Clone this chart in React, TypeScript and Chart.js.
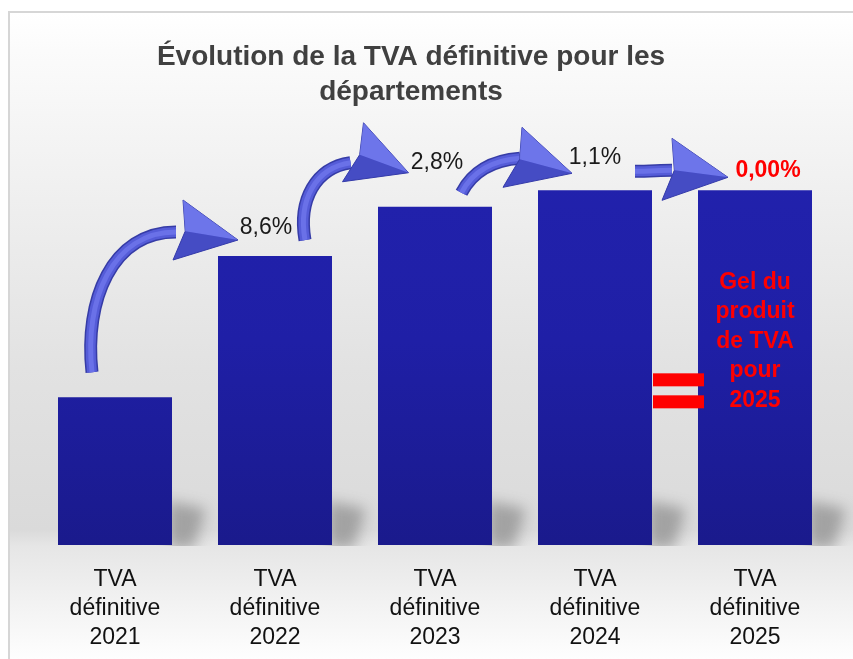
import React, { useEffect, useRef } from "react";
import { Chart, registerables } from "chart.js";

Chart.register(...registerables);

// ---------- data ----------
const categories: string[][] = [
  ["TVA", "définitive", "2021"],
  ["TVA", "définitive", "2022"],
  ["TVA", "définitive", "2023"],
  ["TVA", "définitive", "2024"],
  ["TVA", "définitive", "2025"],
];
// index, TVA définitive 2021 = 100
const values: number[] = [100, 108.6, 111.6, 112.6, 112.6];
const changeLabels: string[] = ["", "8,6%", "2,8%", "1,1%", "0,00%"];
const titleLines: string[] = ["Évolution de la TVA définitive pour les", "départements"];
const noteLines: string[] = ["Gel du", "produit", "de TVA", "pour", "2025"];
const yMin = 91;
const yMax = 116;

// ---------- styling / layout (not data) ----------
const FONT = "'Liberation Sans', Arial, sans-serif";
const labelOffsets: [number, number][] = [[0, 0], [-9, -28], [2, -44], [0, -33], [13, -20]];

type P = [number, number];
interface ArrowShape {
  from: number; to: number;
  tail: P; c1: P; // relative to top-centre of "from" bar
  c2: P; end: P; top: P; tip: P; bottom: P; // relative to top-centre of "to" bar
}
const arrowShapes: ArrowShape[] = [
  { from: 0, to: 1, tail: [-23, -25], c1: [-31, -97], c2: [-163, -24], end: [-99, -24], top: [-92, -56], tip: [-37, -16], bottom: [-102, 4] },
  { from: 1, to: 2, tail: [30, -16], c1: [23, -56], c2: [-119.5, -39], end: [-84.5, -44], top: [-71.5, -84], tip: [-26.5, -34], bottom: [-92.5, -25] },
  { from: 2, to: 3, tail: [26.5, -14], c1: [37.5, -35], c2: [-103, -30], end: [-75, -32], top: [-73, -63], tip: [-23, -17], bottom: [-92, -3] },
  { from: 3, to: 4, tail: [40, -19], c1: [55, -19], c2: [-95, -20], end: [-83, -20], top: [-83, -52], tip: [-27, -13], bottom: [-93, 10] },
];

function drawArrow(ctx: CanvasRenderingContext2D, a: any, b: any, s: ArrowShape) {
  const A = (p: P): P => [a.x + p[0], a.y + p[1]];
  const B = (p: P): P => [b.x + p[0], b.y + p[1]];
  const tail = A(s.tail), c1 = A(s.c1), c2 = B(s.c2), end = B(s.end);
  const top = B(s.top), tip = B(s.tip), bottom = B(s.bottom);
  ctx.save();
  ctx.lineCap = "butt";
  ctx.lineJoin = "round";
  const shaft = () => {
    ctx.beginPath();
    ctx.moveTo(tail[0], tail[1]);
    ctx.bezierCurveTo(c1[0], c1[1], c2[0], c2[1], end[0], end[1]);
  };
  shaft(); ctx.strokeStyle = "#363ca6"; ctx.lineWidth = 13; ctx.stroke();
  shaft(); ctx.strokeStyle = "#555cd8"; ctx.lineWidth = 10; ctx.stroke();
  shaft(); ctx.strokeStyle = "#6a71e8"; ctx.lineWidth = 5; ctx.stroke();
  // head
  const bm: P = [(top[0] + bottom[0]) / 2, (top[1] + bottom[1]) / 2];
  const mid: P = [bm[0] + (tip[0] - bm[0]) * 0.12, bm[1] + (tip[1] - bm[1]) * 0.12];
  ctx.beginPath();
  ctx.moveTo(top[0], top[1]); ctx.lineTo(tip[0], tip[1]); ctx.lineTo(bottom[0], bottom[1]); ctx.lineTo(mid[0], mid[1]); ctx.closePath();
  ctx.fillStyle = "#555cd8"; ctx.fill();
  ctx.strokeStyle = "#3a40ac"; ctx.lineWidth = 1; ctx.stroke();
  // bevel facets
  ctx.beginPath();
  ctx.moveTo(top[0], top[1]); ctx.lineTo(tip[0], tip[1]); ctx.lineTo(mid[0], mid[1]); ctx.closePath();
  ctx.fillStyle = "rgba(130,138,250,0.55)"; ctx.fill();
  ctx.beginPath();
  ctx.moveTo(bottom[0], bottom[1]); ctx.lineTo(tip[0], tip[1]); ctx.lineTo(mid[0], mid[1]); ctx.closePath();
  ctx.fillStyle = "rgba(40,46,160,0.35)"; ctx.fill();
  ctx.restore();
}

const decorPlugin = {
  id: "decor",
  beforeDraw(chart: any) {
    const { ctx, width: W, height: H } = chart;
    ctx.save();
    ctx.fillStyle = "#ffffff";
    ctx.fillRect(0, 0, W, H);
    const g = ctx.createLinearGradient(0, 12, 0, H);
    g.addColorStop(0, "#ffffff");
    g.addColorStop(0.06, "#fbfbfb");
    g.addColorStop(0.29, "#efefef");
    g.addColorStop(0.55, "#e2e2e2");
    g.addColorStop(0.8, "#dadada");
    g.addColorStop(0.826, "#e6e6e6");
    g.addColorStop(0.92, "#f3f3f3");
    g.addColorStop(1, "#fefefe");
    ctx.fillStyle = g;
    ctx.fillRect(9, 12, W - 9, H - 12);
    ctx.strokeStyle = "#d6d6d6";
    ctx.lineWidth = 2;
    ctx.beginPath();
    ctx.moveTo(9, H);
    ctx.lineTo(9, 12);
    ctx.lineTo(W, 12);
    ctx.stroke();
    // title
    ctx.fillStyle = "#404040";
    ctx.font = `bold 28px ${FONT}`;
    ctx.textAlign = "center";
    ctx.textBaseline = "middle";
    titleLines.forEach((t, i) => ctx.fillText(t, 411, 57 + i * 35));
    ctx.restore();
  },
  beforeDatasetsDraw(chart: any) {
    const { ctx, chartArea } = chart;
    const meta = chart.getDatasetMeta(0);
    const base = chartArea.bottom;
    ctx.save();
    ctx.beginPath();
    ctx.rect(0, 0, chart.width, base + 1);
    ctx.clip();
    ctx.filter = "blur(7px)";
    ctx.fillStyle = "rgba(70,70,70,0.38)";
    meta.data.forEach((bar: any) => {
      const r = bar.x + bar.width / 2;
      ctx.beginPath();
      ctx.moveTo(r - 4, base + 4);
      ctx.lineTo(r - 4, base - 44);
      ctx.lineTo(r + 34, base - 36);
      ctx.lineTo(r + 22, base + 4);
      ctx.closePath();
      ctx.fill();
    });
    ctx.restore();
  },
  afterDatasetsDraw(chart: any) {
    const { ctx } = chart;
    const bars = chart.getDatasetMeta(0).data;
    arrowShapes.forEach((s) => drawArrow(ctx, bars[s.from], bars[s.to], s));
    ctx.save();
    ctx.textAlign = "center";
    ctx.textBaseline = "middle";
    changeLabels.forEach((t, i) => {
      if (!t) return;
      const bar = bars[i];
      const last = i === changeLabels.length - 1;
      ctx.font = `${last ? "bold " : ""}23px ${FONT}`;
      ctx.fillStyle = last ? "#ff0000" : "#1a1a1a";
      ctx.fillText(t, bar.x + labelOffsets[i][0], bar.y + labelOffsets[i][1]);
    });
    // freeze note inside the last bar
    const lb = bars[bars.length - 1];
    const pb = bars[bars.length - 2];
    ctx.font = `bold 23px ${FONT}`;
    ctx.fillStyle = "#ff0000";
    noteLines.forEach((t, i) => ctx.fillText(t, lb.x, lb.y + 92 + i * 29.5));
    // "=" sign between the last two bars
    const x0 = pb.x + pb.width / 2 + 1;
    const x1 = lb.x - lb.width / 2 + 6;
    const yc = lb.y + 200;
    ctx.fillRect(x0, yc - 17, x1 - x0, 13);
    ctx.fillRect(x0, yc + 5, x1 - x0, 13);
    ctx.restore();
  },
};

export default function App() {
  const ref = useRef<HTMLCanvasElement>(null);
  useEffect(() => {
    if (!ref.current) return;
    const chart = new Chart(ref.current, {
      type: "bar",
      data: {
        labels: categories,
        datasets: [
          {
            label: "TVA définitive",
            data: values,
            backgroundColor: (c: any) => {
              const area = c.chart.chartArea;
              if (!area) return "#1e1ea0";
              const g = c.chart.ctx.createLinearGradient(0, area.top, 0, area.bottom);
              g.addColorStop(0, "#2222ae");
              g.addColorStop(0.5, "#1f1fa6");
              g.addColorStop(1, "#1a1a8c");
              return g;
            },
            borderWidth: 0,
            categoryPercentage: 1,
            barPercentage: 0.7125,
          },
        ],
      },
      options: {
        responsive: false,
        animation: false,
        layout: { padding: { top: 134.5, left: 35, right: 18, bottom: 10 } },
        plugins: { legend: { display: false }, tooltip: { enabled: false }, title: { display: false } },
        scales: {
          x: {
            grid: { display: false, drawTicks: false },
            border: { display: false },
            afterFit: (scale: any) => { scale.height = 104; },
            ticks: {
              color: "#111111",
              font: { family: FONT, size: 23, lineHeight: 1.26 },
              padding: 20,
              maxRotation: 0,
              autoSkip: false,
            },
          },
          y: { display: false, min: yMin, max: yMax },
        },
      },
      plugins: [decorPlugin],
    });
    return () => chart.destroy();
  }, []);
  return (
    <div style={{ position: "fixed", left: 0, top: 0, width: 853, height: 659 }}>
      <canvas ref={ref} width={853} height={659} style={{ display: "block" }} />
    </div>
  );
}
